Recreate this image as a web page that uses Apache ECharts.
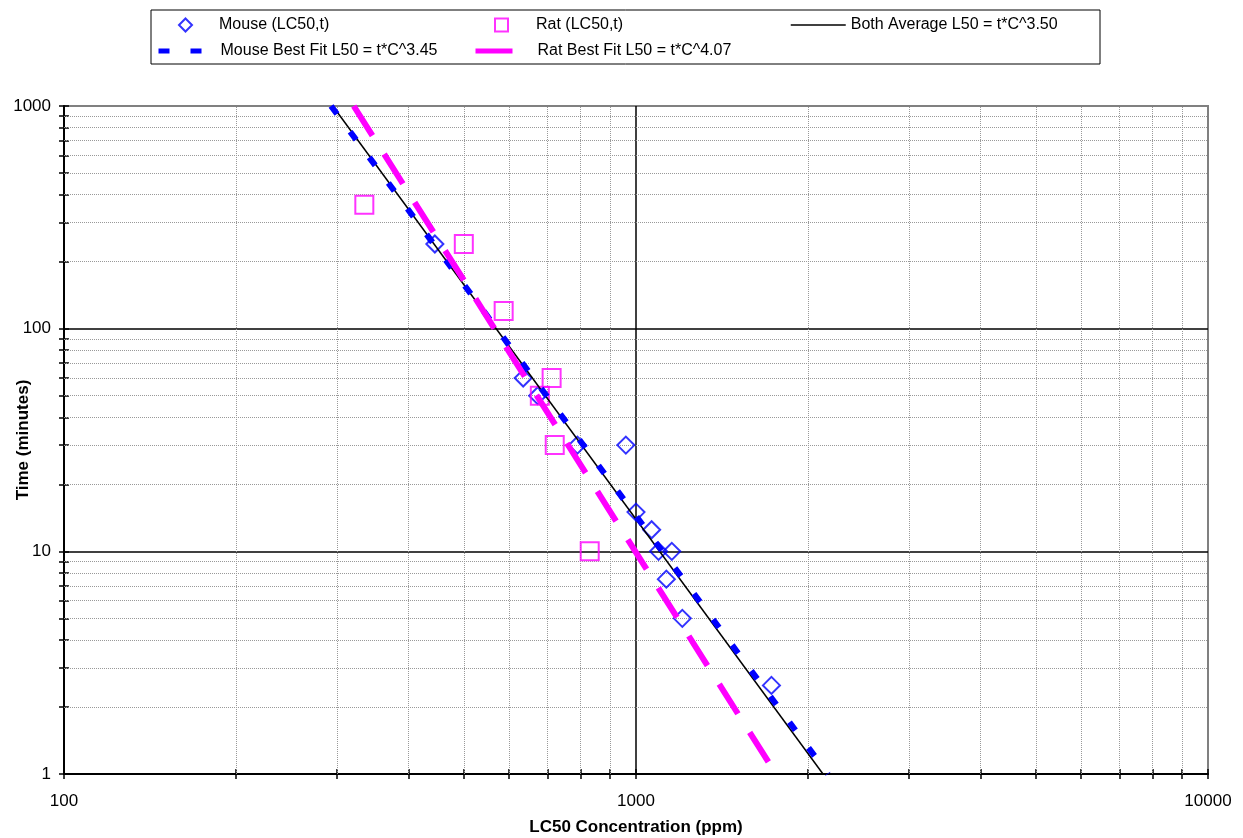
<!DOCTYPE html>
<html>
<head>
<meta charset="utf-8">
<title>LC50 vs Time</title>
<script src="https://cdn.jsdelivr.net/npm/echarts@6.0.0/dist/echarts.min.js"></script>
<style>
  html, body { margin: 0; padding: 0; background: #fff; }
  #chart { width: 1243px; height: 838px; }
</style>
</head>
<body>
<div id="chart"></div>
<script>
// mouse LC50 points: concentration (ppm) and time (minutes)
const mouseConc = [445, 635, 673, 790, 960, 1000, 1065, 1095, 1155, 1130, 1205, 1725];
const mouseTime = [240, 60, 50, 30, 30, 15, 12.5, 10, 10, 7.5, 5, 2.5];

// rat LC50 points
const ratConc = [335, 500, 587, 712, 679, 721, 830];
const ratTime = [360, 240, 120, 60, 50, 30, 10];

// fitted lines, end points (t = 1000 and t = 1)
const fitTime = [1000, 1];
const avgConc = [295, 2123];
const mouseFitConc = [293, 2166];
const ratFitConc = [321, 1757];

// tick and minor grid values
const xTickValues = [100, 200, 300, 400, 500, 600, 700, 800, 900, 1000,
  2000, 3000, 4000, 5000, 6000, 7000, 8000, 9000, 10000];
const yTickValues = [1, 2, 3, 4, 5, 6, 7, 8, 9, 10, 20, 30, 40, 50, 60, 70, 80, 90,
  100, 200, 300, 400, 500, 600, 700, 800, 900, 1000];
const xMinor = [200, 300, 400, 500, 600, 700, 800, 900, 2000, 3000, 4000, 5000, 6000, 7000, 8000, 9000];
const yMinor = [2, 3, 4, 5, 6, 7, 8, 9, 20, 30, 40, 50, 60, 70, 80, 90, 200, 300, 400, 500, 600, 700, 800, 900];

const zip = (a, b) => a.map((v, i) => [v, b[i]]);

const FONT = "'Liberation Sans', Arial, sans-serif";

var chartDom = document.getElementById("chart");
var myChart = echarts.init(chartDom);
var option;

const legendText = { fontSize: 16, color: "#000", fontFamily: FONT };
const legendBase = {
  padding: 0,
  selectedMode: false,
  itemHeight: 14,
  textStyle: legendText
};
// line legends: hide the marker the line icon adds in the middle
const noMarker = { itemStyle: { opacity: 0 } };

option = {
  animation: false,
  backgroundColor: "#fff",
  textStyle: { fontFamily: FONT },
  graphic: [
    {
      type: "rect",
      shape: { x: 151, y: 10, width: 949, height: 54 },
      style: { fill: "none", stroke: "#000", lineWidth: 1 },
      silent: true
    }
  ],
  legend: [
    Object.assign({}, legendBase, {
      data: ["Mouse (LC50,t)"], left: 178, top: 17, itemWidth: 13, itemHeight: 13,
      textStyle: Object.assign({}, legendText, { padding: [0, 0, 0, 22] })
    }),
    Object.assign({}, legendBase, {
      data: ["Rat (LC50,t)"], left: 494, top: 17, itemWidth: 13, itemHeight: 13,
      textStyle: Object.assign({}, legendText, { padding: [0, 0, 0, 23] })
    }),
    Object.assign({}, legendBase, noMarker, {
      data: ["Both Average L50 = t*C^3.50"], left: 790, top: 17, itemWidth: 55,
      lineStyle: { width: 1.5 }
    }),
    Object.assign({}, legendBase, noMarker, {
      data: ["Mouse Best Fit L50 = t*C^3.45"], left: 156, top: 43, itemWidth: 57,
      lineStyle: { width: 5, type: [11, 21] }
    }),
    Object.assign({}, legendBase, noMarker, {
      data: ["Rat Best Fit L50 = t*C^4.07"], left: 473, top: 43, itemWidth: 57,
      lineStyle: { type: [37, 30], width: 5 }
    })
  ],
  grid: {
    left: 64,
    right: 35,
    top: 106,
    bottom: 64,
    containLabel: false,
    outerBoundsMode: "none",
    show: true,
    borderColor: "#808080",
    borderWidth: 2,
    backgroundColor: "#fff"
  },
  xAxis: [
    {
      type: "log",
      logBase: 10,
      min: 100,
      max: 10000,
      name: "LC50 Concentration (ppm)",
      nameLocation: "middle",
      nameGap: 45,
      nameMoveOverlap: false,
      nameTextStyle: { fontWeight: "bold", fontSize: 17, color: "#000", fontFamily: FONT },
      axisLine: { lineStyle: { color: "#000", width: 2 } },
      axisTick: { show: false },
      axisLabel: { fontSize: 17, color: "#000", margin: 19, fontFamily: FONT, formatter: v => String(v) },
      splitLine: { show: true, showMinLine: false, showMaxLine: false, lineStyle: { color: "#000", width: 1.5 } }
    },
    {
      type: "log",
      logBase: 10,
      min: 100,
      max: 10000,
      position: "bottom",
      offset: -5,
      axisLine: { show: false },
      axisLabel: { show: false },
      splitLine: { show: false },
      axisTick: { show: true, length: 10, customValues: xTickValues, lineStyle: { color: "#000", width: 1.5 } }
    }
  ],
  yAxis: [
    {
      type: "log",
      logBase: 10,
      min: 1,
      max: 1000,
      name: "Time (minutes)",
      nameLocation: "middle",
      nameGap: 32,
      nameMoveOverlap: false,
      nameTextStyle: { fontWeight: "bold", fontSize: 17, color: "#000", fontFamily: FONT },
      axisLine: { lineStyle: { color: "#000", width: 2 } },
      axisTick: { show: false },
      axisLabel: { fontSize: 17, color: "#000", margin: 13, fontFamily: FONT, formatter: v => String(v) },
      splitLine: { show: true, showMinLine: false, showMaxLine: false, lineStyle: { color: "#000", width: 1.5 } }
    },
    {
      type: "log",
      logBase: 10,
      min: 1,
      max: 1000,
      position: "left",
      offset: -5,
      axisLine: { show: false },
      axisLabel: { show: false },
      splitLine: { show: false },
      axisTick: { show: true, length: 10, customValues: yTickValues, lineStyle: { color: "#000", width: 1.5 } }
    }
  ],
  series: [
    {
      // minor grid lines
      name: "minor",
      type: "line",
      data: [],
      silent: true,
      markLine: {
        silent: true,
        symbol: "none",
        z: 1,
        label: { show: false },
        lineStyle: { color: "#999", type: "dotted", width: 1 },
        emphasis: { disabled: true },
        data: xMinor.map(v => ({ xAxis: v })).concat(yMinor.map(v => ({ yAxis: v })))
      }
    },
    {
      name: "Mouse (LC50,t)",
      type: "scatter",
      data: zip(mouseConc, mouseTime),
      symbol: "diamond",
      symbolSize: 17,
      itemStyle: { color: "rgba(0,0,0,0)", borderColor: "#0000ff", borderWidth: 2 },
      z: 3
    },
    {
      name: "Rat (LC50,t)",
      type: "scatter",
      data: zip(ratConc, ratTime),
      symbol: "rect",
      symbolSize: 18,
      itemStyle: { color: "rgba(0,0,0,0)", borderColor: "#ff00ff", borderWidth: 2 },
      z: 3
    },
    {
      name: "Both Average L50 = t*C^3.50",
      type: "line",
      data: zip(avgConc, fitTime),
      symbol: "none",
      color: "#000",
      lineStyle: { color: "#000", width: 1.5 },
      z: 4
    },
    {
      name: "Mouse Best Fit L50 = t*C^3.45",
      type: "line",
      data: zip(mouseFitConc, fitTime),
      symbol: "none",
      color: "#0000ff",
      lineStyle: { color: "#0000ff", width: 6, type: [10, 22], cap: "butt" },
      z: 5
    },
    {
      name: "Rat Best Fit L50 = t*C^4.07",
      type: "line",
      data: zip(ratFitConc, fitTime),
      symbol: "none",
      color: "#ff00ff",
      lineStyle: { color: "#ff00ff", width: 6, type: [35, 22], cap: "butt" },
      z: 5
    }
  ]
};

option && myChart.setOption(option);
</script>
</body>
</html>
